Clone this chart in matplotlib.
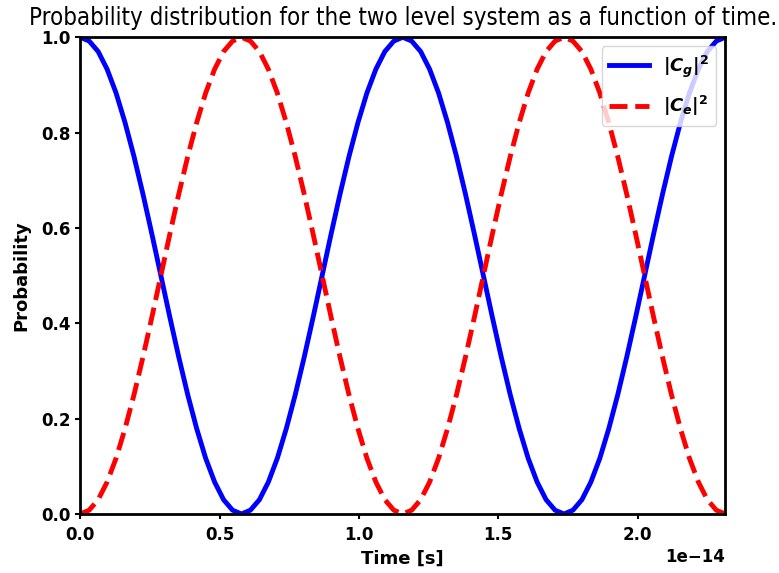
import numpy as np
import matplotlib as mpl
mpl.use('Agg')
import matplotlib.pyplot as plt

plt.rcParams['mathtext.fontset'] = 'custom'
plt.rcParams['mathtext.rm'] = 'DejaVu Sans:bold'
plt.rcParams['mathtext.it'] = 'DejaVu Sans:bold:italic'
plt.rcParams['mathtext.bf'] = 'DejaVu Sans:bold'

# time, in units of 1e-14 s
time_e14 = [0.0, 0.0321, 0.0643, 0.0964, 0.1286, 0.1607, 0.1928, 0.2250, 0.2571, 0.2893,
            0.3214, 0.3535, 0.3857, 0.4178, 0.4499, 0.4821, 0.5142, 0.5464, 0.5785, 0.6106,
            0.6428, 0.6749, 0.7071, 0.7392, 0.7713, 0.8035, 0.8356, 0.8678, 0.8999, 0.9320,
            0.9642, 0.9963, 1.0284, 1.0606, 1.0927, 1.1249, 1.1570, 1.1891, 1.2213, 1.2534,
            1.2856, 1.3177, 1.3498, 1.3820, 1.4141, 1.4463, 1.4784, 1.5105, 1.5427, 1.5748,
            1.6069, 1.6391, 1.6712, 1.7034, 1.7355, 1.7676, 1.7998, 1.8319, 1.8641, 1.8962,
            1.9283, 1.9605, 1.9926, 2.0248, 2.0569, 2.0890, 2.1212, 2.1533, 2.1854, 2.2176,
            2.2497, 2.2819, 2.3140]

# ground state probability |C_g|^2
prob_g = [1.0, 0.992, 0.970, 0.933, 0.883, 0.821, 0.750, 0.671, 0.587, 0.500,
          0.413, 0.329, 0.250, 0.179, 0.117, 0.067, 0.030, 0.008, 0.0, 0.008,
          0.030, 0.067, 0.117, 0.179, 0.250, 0.329, 0.413, 0.500, 0.587, 0.671,
          0.750, 0.821, 0.883, 0.933, 0.970, 0.992, 1.0, 0.992, 0.970, 0.933,
          0.883, 0.821, 0.750, 0.671, 0.587, 0.500, 0.413, 0.329, 0.250, 0.179,
          0.117, 0.067, 0.030, 0.008, 0.0, 0.008, 0.030, 0.067, 0.117, 0.179,
          0.250, 0.329, 0.413, 0.500, 0.587, 0.671, 0.750, 0.821, 0.883, 0.933,
          0.970, 0.992, 1.0]

# excited state probability |C_e|^2
prob_e = [0.0, 0.008, 0.030, 0.067, 0.117, 0.179, 0.250, 0.329, 0.413, 0.500,
          0.587, 0.671, 0.750, 0.821, 0.883, 0.933, 0.970, 0.992, 1.0, 0.992,
          0.970, 0.933, 0.883, 0.821, 0.750, 0.671, 0.587, 0.500, 0.413, 0.329,
          0.250, 0.179, 0.117, 0.067, 0.030, 0.008, 0.0, 0.008, 0.030, 0.067,
          0.117, 0.179, 0.250, 0.329, 0.413, 0.500, 0.587, 0.671, 0.750, 0.821,
          0.883, 0.933, 0.970, 0.992, 1.0, 0.992, 0.970, 0.933, 0.883, 0.821,
          0.750, 0.671, 0.587, 0.500, 0.413, 0.329, 0.250, 0.179, 0.117, 0.067,
          0.030, 0.008, 0.0]

t = np.array(time_e14) * 1e-14

fig, ax = plt.subplots(figsize=(7.79, 5.73), dpi=100)
fig.subplots_adjust(left=0.103, bottom=0.103, right=0.931, top=0.935)

ax.plot(t, prob_g, color='blue', lw=3.5, label=r'$|C_g|^2$')
ax.plot(t, prob_e, color='red', lw=3.5, ls='--', label=r'$|C_e|^2$')

ax.set_xlim(t[0], t[-1])
ax.set_ylim(0, 1)
ax.set_title('Probability distribution for the two level system as a function of time.',
             fontsize=17.2, fontstretch='condensed', pad=9)
ax.set_xlabel('Time [s]', fontweight='bold', fontsize=13)
ax.set_ylabel('Probability', fontweight='bold', fontsize=13, labelpad=8)

for s in ax.spines.values():
    s.set_linewidth(2)
ax.tick_params(width=1.5, labelsize=12)
ax.tick_params(axis='x', pad=5)
for lab in ax.get_xticklabels() + ax.get_yticklabels():
    lab.set_fontweight('bold')
ax.xaxis.get_offset_text().set_fontweight('bold')
ax.xaxis.get_offset_text().set_fontsize(12)

ax.legend(loc='upper right', prop={'size': 13, 'weight': 'bold'}, handlelength=2.2,
          labelspacing=0.8)

fig.savefig('out.png', dpi=100)
